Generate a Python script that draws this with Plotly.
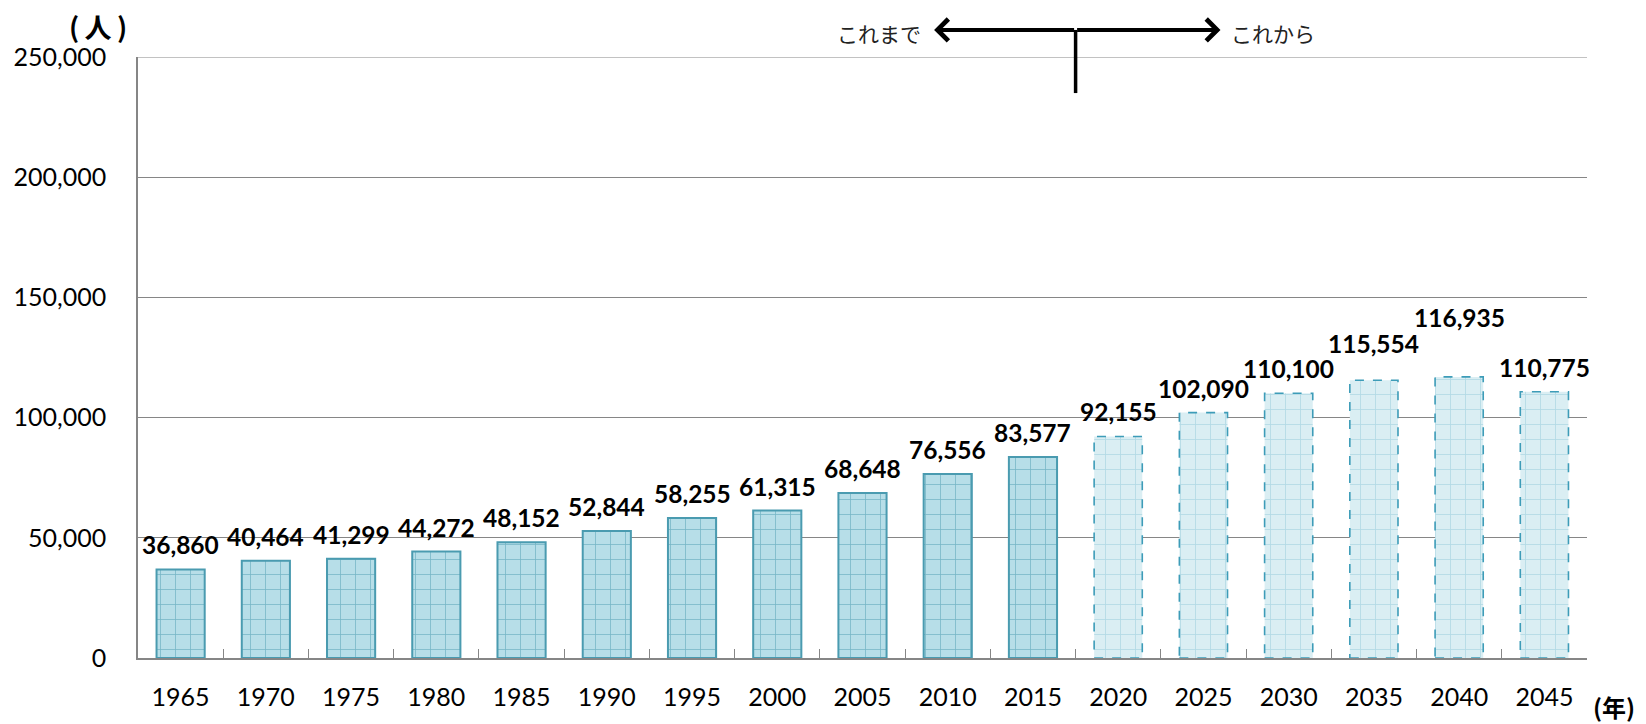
import plotly.graph_objects as go

years = ["1965", "1970", "1975", "1980", "1985", "1990", "1995", "2000", "2005",
         "2010", "2015", "2020", "2025", "2030", "2035", "2040", "2045"]
values = [36860, 40464, 41299, 44272, 48152, 52844, 58255, 61315, 68648,
          76556, 83577, 92155, 102090, 110100, 115554, 116935, 110775]
n_actual = 11  # 1965-2015 are actual, 2020+ are projections
y_max = 250000
y_step = 50000

# label vertical offsets (px) - style only
label_shift = [8] * len(years)
label_shift[14] = 20
label_shift[15] = 43

BAR_W = 0.565
NUM_FONT = "Lato, 'Noto Sans CJK JP', sans-serif"
JP_FONT = "'Noto Sans CJK JP', sans-serif"

# figure geometry (page has an 8px body margin)
W, H = 1638, 716
ML, MT, MR, MB = 130, 49, 59, 66
PW, PH = W - ML - MR, H - MT - MB

hist_x, hist_y = years[:n_actual], values[:n_actual]
fut_x, fut_y = years[n_actual:], values[n_actual:]

fig = go.Figure()
fig.add_trace(go.Bar(
    x=hist_x, y=hist_y, width=BAR_W,
    marker=dict(color="#b7dee8",
                line=dict(color="#4a9bb0", width=2),
                pattern=dict(shape="+", size=15, solidity=0.1,
                             fgcolor="#4a9bb0", fgopacity=0.6, bgcolor="#b7dee8")),
    showlegend=False, hoverinfo="x+y",
))
fig.add_trace(go.Bar(
    x=fut_x, y=fut_y, width=BAR_W,
    marker=dict(color="#daeef3",
                line=dict(width=0),
                pattern=dict(shape="+", size=15, solidity=0.1,
                             fgcolor="#9dd0de", fgopacity=0.7, bgcolor="#daeef3")),
    showlegend=False, hoverinfo="x+y",
))

shapes = []
for i in range(n_actual, len(years)):
    shapes.append(dict(type="rect", xref="x", yref="y",
                       x0=i - BAR_W / 2, x1=i + BAR_W / 2, y0=0, y1=values[i],
                       line=dict(color="#3d9cb8", width=1.6, dash="dash"),
                       fillcolor="rgba(0,0,0,0)", layer="above"))
# top gridline (plotly hides the grid line at the range edge)
shapes.append(dict(type="line", xref="paper", yref="y", x0=0, x1=1, y0=y_max, y1=y_max,
                   line=dict(color="#868686", width=1), layer="below"))
# divider between actual and projection
shapes.append(dict(type="line", xref="x", yref="paper",
                   x0=n_actual - 0.5, x1=n_actual - 0.5, y0=0.940, y1=1.045,
                   line=dict(color="black", width=3.5)))

annotations = []
for i, v in enumerate(values):
    annotations.append(dict(x=i, y=v, xref="x", yref="y", text=f"{v:,}",
                            showarrow=False, yanchor="bottom", yshift=label_shift[i],
                            font=dict(family=NUM_FONT, size=24.5, color="black", weight="bold")))

arrow_y = 1.045
mid = n_actual - 0.5
annotations += [
    dict(x=mid - 1.66, y=arrow_y, xref="x", yref="paper", ax=mid, ay=0,
         axref="x", ayref="pixel", showarrow=True, arrowhead=4, arrowsize=1.05,
         arrowwidth=4, arrowcolor="black", text=""),
    dict(x=mid + 1.70, y=arrow_y, xref="x", yref="paper", ax=mid, ay=0,
         axref="x", ayref="pixel", showarrow=True, arrowhead=4, arrowsize=1.05,
         arrowwidth=4, arrowcolor="black", text=""),
    dict(x=mid - 1.79, y=arrow_y, xref="x", yref="paper", text="これまで",
         showarrow=False, xanchor="right", yanchor="middle", yshift=-3,
         font=dict(family=JP_FONT, size=21, color="#222")),
    dict(x=mid + 1.80, y=arrow_y, xref="x", yref="paper", text="これから",
         showarrow=False, xanchor="left", yanchor="middle", yshift=-3,
         font=dict(family=JP_FONT, size=21, color="#222")),
    dict(xref="paper", yref="paper", x=(90 - ML) / PW, y=(MT + PH - 18) / PH,
         text="(\u2009人\u2009)", showarrow=False, xanchor="center", yanchor="middle",
         font=dict(family=JP_FONT, size=27, color="black", weight="bold")),
    dict(xref="paper", yref="paper", x=(1606 - ML) / PW, y=(MT + PH - 698) / PH,
         text="(年)", showarrow=False, xanchor="center", yanchor="middle",
         font=dict(family=JP_FONT, size=24, color="black", weight="bold")),
]

fig.update_layout(
    width=W, height=H,
    margin=dict(l=ML, r=MR, t=MT, b=MB, autoexpand=False),
    paper_bgcolor="white", plot_bgcolor="white",
    barmode="overlay",
    shapes=shapes, annotations=annotations,
    font=dict(family=NUM_FONT, size=24, color="black"),
    xaxis=dict(type="category", categoryorder="array", categoryarray=years,
               range=[-0.5, len(years) - 0.5], automargin=False,
               showline=True, linecolor="#868686", linewidth=1.5,
               ticks="inside", ticklen=9, tickcolor="#868686", tickson="boundaries",
               ticklabelstandoff=16, showgrid=False,
               tickfont=dict(family=NUM_FONT, size=25, color="black")),
    yaxis=dict(range=[0, y_max], dtick=y_step, tickformat=",d", automargin=False,
               showline=True, linecolor="#868686", linewidth=1.5,
               showgrid=True, gridcolor="#868686", gridwidth=1,
               zeroline=False, ticks="", ticklabelstandoff=25,
               tickfont=dict(family=NUM_FONT, size=25, color="black")),
)

fig.write_html("out.html")
